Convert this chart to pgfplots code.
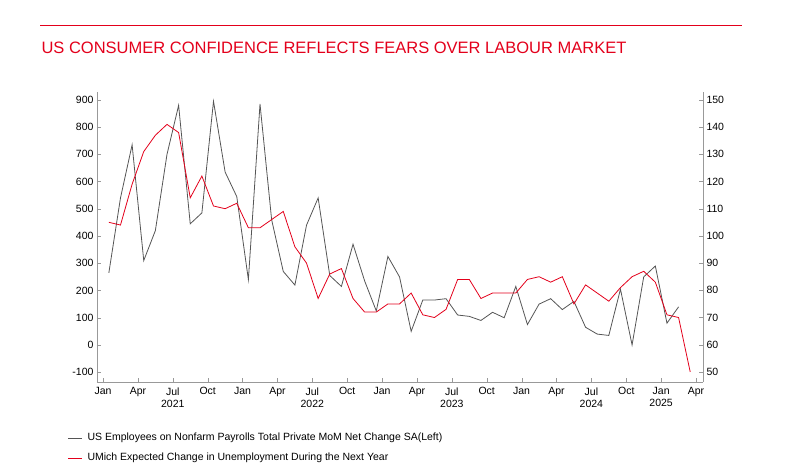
\documentclass[border=0pt]{standalone}
\usepackage{pgfplots}
\pgfplotsset{compat=1.18}
\usepackage{fontspec}
\setmainfont{Liberation Sans}
\definecolor{ttl}{HTML}{E3001B}
\definecolor{gr}{HTML}{555555}
\definecolor{ax}{HTML}{999999}
\begin{document}
\begin{tikzpicture}
\path (0pt,0pt) rectangle (804pt,475pt);
\draw[ttl,line width=0.6pt] (40pt,450pt) -- (742pt,450pt);
\node[anchor=west,text=ttl,font=\fontsize{16.5}{18}\selectfont] at (38pt,427pt) {US CONSUMER CONFIDENCE REFLECTS FEARS OVER LABOUR MARKET};
\pgfplotsset{every axis/.append style={
  scale only axis, width=606pt, height=290pt, xmin=-0.52, xmax=51.6,
  tick label style={font=\fontsize{10.5}{12}\selectfont},
  /pgf/number format/assume math mode=true,
  axis line style={ax}, major tick style={ax}, tick align=inside, major tick length=4pt}}
\begin{axis}[at={(97pt,93pt)}, anchor=south west,
  axis y line*=left, axis x line*=bottom,
  ymin=-136, ymax=929, ytick={-100,0,...,900},
  xtick={0,3,...,51},
  xticklabels={Jan,Apr,{Jul\\2021},Oct,Jan,Apr,{Jul\\2022},Oct,Jan,Apr,{Jul\\2023},Oct,Jan,Apr,{Jul\\2024},Oct,{Jan\\2025},Apr},
  xticklabel style={align=center, yshift=-2pt}]
\addplot[gr, line width=0.8pt] coordinates {
(0.5,265)(1.5,540)(2.5,735)(3.5,310)(4.5,420)(5.5,700)(6.5,880)(7.5,445)(8.5,485)(9.5,895)(10.5,635)(11.5,545)
(12.5,240)(13.5,885)(14.5,460)(15.5,270)(16.5,220)(17.5,440)(18.5,540)(19.5,255)(20.5,215)(21.5,370)(22.5,235)(23.5,125)
(24.5,325)(25.5,250)(26.5,50)(27.5,165)(28.5,165)(29.5,170)(30.5,110)(31.5,105)(32.5,90)(33.5,120)(34.5,100)(35.5,215)
(36.5,75)(37.5,150)(38.5,170)(39.5,130)(40.5,160)(41.5,65)(42.5,40)(43.5,35)(44.5,205)(45.5,0)(46.5,250)(47.5,290)
(48.5,80)(49.5,140)};
\end{axis}
\begin{axis}[at={(97pt,93pt)}, anchor=south west,
  axis y line*=right, axis x line=none,
  ymin=46.3, ymax=152.9, ytick={50,60,...,150}]
\addplot[ttl, line width=0.8pt] coordinates {
(0.5,105)(1.5,104)(2.5,119)(3.5,131)(4.5,137)(5.5,141)(6.5,138)(7.5,114)(8.5,122)(9.5,111)(10.5,110)(11.5,112)
(12.5,103)(13.5,103)(14.5,106)(15.5,109)(16.5,96)(17.5,90)(18.5,77)(19.5,86)(20.5,88)(21.5,77)(22.5,72)(23.5,72)
(24.5,75)(25.5,75)(26.5,79)(27.5,71)(28.5,70)(29.5,73)(30.5,84)(31.5,84)(32.5,77)(33.5,79)(34.5,79)(35.5,79)
(36.5,84)(37.5,85)(38.5,83)(39.5,85)(40.5,75)(41.5,82)(42.5,79)(43.5,76)(44.5,81)(45.5,85)(46.5,87)(47.5,83)
(48.5,71)(49.5,70)(50.5,50)};
\end{axis}
\draw[gr,line width=0.8pt] (68pt,37pt) -- (82pt,37pt);
\node[anchor=west,font=\fontsize{10.5}{12}\selectfont] at (84pt,37pt) {US Employees on Nonfarm Payrolls Total Private MoM Net Change SA(Left)};
\draw[ttl,line width=0.8pt] (68pt,17pt) -- (82pt,17pt);
\node[anchor=west,font=\fontsize{10.5}{12}\selectfont] at (84pt,17pt) {UMich Expected Change in Unemployment During the Next Year};
\end{tikzpicture}
\end{document}
